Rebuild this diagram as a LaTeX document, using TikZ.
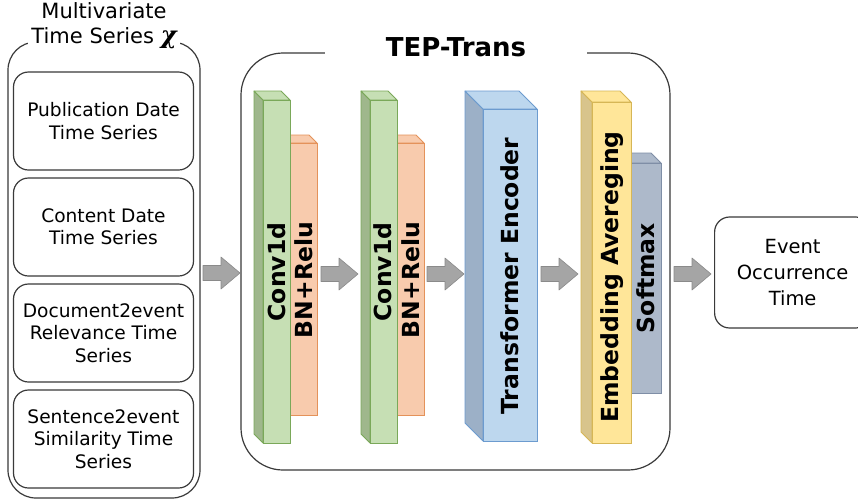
\documentclass[tikz,border=0pt]{standalone}
\usepackage{fontspec}
\setmainfont{DejaVu Sans}
\newfontfamily\chifont{DejaVu Serif}
\usetikzlibrary{calc}

% block colours: fill, side face, outline
\definecolor{gFill}{HTML}{C6DFB4}\definecolor{gSide}{HTML}{9FB78C}\definecolor{gLine}{HTML}{7AA859}
\definecolor{oFill}{HTML}{F8CBAD}\definecolor{oSide}{HTML}{E7B597}\definecolor{oLine}{HTML}{E4925A}
\definecolor{bFill}{HTML}{BDD7EE}\definecolor{bSide}{HTML}{9CB0C7}\definecolor{bLine}{HTML}{6C9BCF}
\definecolor{yFill}{HTML}{FFE699}\definecolor{ySide}{HTML}{D8C48C}\definecolor{yLine}{HTML}{D6B656}
\definecolor{sFill}{HTML}{ADB9CA}\definecolor{sSide}{HTML}{9AA5B5}\definecolor{sLine}{HTML}{7F8EA6}
\definecolor{arrFill}{HTML}{A5A5A5}\definecolor{arrLine}{HTML}{8A8A8A}
\definecolor{frameCol}{HTML}{3A3A3A}

% 3D slab: name, x-left, x-right, y-top, y-bottom, depth, colour prefix
\newcommand\slab[7]{%
  \filldraw[fill=#7Side,draw=#7Line,line width=0.8pt,line join=round]
    (#2-#6,#4-#6) -- (#2,#4) -- (#2,#5) -- (#2-#6,#5-#6) -- cycle;
  \filldraw[fill=#7Fill,draw=#7Line,line width=0.8pt,line join=round]
    (#2-#6,#4-#6) -- (#3-#6,#4-#6) -- (#3,#4) -- (#2,#4) -- cycle;
  \node[draw=#7Line,fill=#7Fill,line width=0.8pt,inner sep=0pt,anchor=north west,
        minimum width=#3-#2,minimum height=#5-#4] (#1) at (#2,#4) {};
}

\tikzset{
  frame/.style={draw=frameCol,line width=1.2pt},
  inbox/.style={frame,rounded corners=15pt,minimum width=180pt,minimum height=98pt,
    align=center,inner sep=0pt,font=\fontsize{18.6}{22.3}\selectfont},
  vlabel/.style={rotate=90,inner sep=0pt,font=\fontsize{23.5}{26}\selectfont\bfseries},
  fatarrow/.pic={\filldraw[fill=arrFill,draw=arrLine,line width=0.6pt,line join=round]
    (0,-7.5) -- (18,-7.5) -- (18,-16) -- (37,0) -- (18,16) -- (18,7.5) -- (0,7.5) -- cycle;}
}

\begin{document}
\begin{tikzpicture}[x=1pt,y=-1pt]
\useasboundingbox (0,0) rectangle (858,501);
\clip (0,0) rectangle (858,501);
\fill[white] (0,0) rectangle (858,501);

% input series
\draw[frame,rounded corners=28pt] (8,42) rectangle (200,498);
\node[fill=white,inner sep=3pt,align=center,font=\fontsize{21}{25}\selectfont] (mts) at (104,26)
  {Multivariate\\Time Series {\chifont\fontsize{24}{24}\selectfont\bfseries\itshape χ}};
\node[inbox] (pub) at (103.5,121) {Publication Date\\Time Series};
\node[inbox] (con) at (103.5,227) {Content Date\\Time Series};
\node[inbox] (doc) at (103.5,333) {Document2event\\Relevance Time\\Series};
\node[inbox] (sen) at (103.5,439) {Sentence2event\\Similarity Time\\Series};

% model
\draw[frame,rounded corners=42pt] (241,53) rectangle (670,470);
\node[fill=white,minimum width=262pt,inner sep=2pt,font=\fontsize{26}{30}\selectfont\bfseries] (tep) at (456,47) {TEP-Trans};

\slab{bn1}{290}{317}{143}{415}{8}{o}
\slab{cv1}{263}{290}{100}{443}{9}{g}
\slab{bn2}{397}{424}{143}{415}{8}{o}
\slab{cv2}{370}{397}{100}{443}{9}{g}
\slab{enc}{483}{537}{109}{441}{18}{b}
\slab{smx}{631}{661}{163}{393}{10}{s}
\slab{emb}{592}{631}{102}{443}{11}{y}

\node[vlabel] at (277,272) {Conv1d};
\node[vlabel] at (304,280) {BN+Relu};
\node[vlabel] at (383,272) {Conv1d};
\node[vlabel] at (411,280) {BN+Relu};
\node[vlabel] at (510,276) {Transformer Encoder};
\node[vlabel] at (612,277) {Embedding Avereging};
\node[vlabel] at (646,278) {Softmax};

% output
\node[frame,rounded corners=15pt,minimum width=156pt,minimum height=111pt,anchor=west,
      align=center,inner sep=0pt,font=\fontsize{19.5}{26}\selectfont] (evt) at (714,272.5)
  {Event\\Occurrence\\Time};

% flow arrows
\pic at (203,273) {fatarrow};
\pic at (321,274) {fatarrow};
\pic at (427,274) {fatarrow};
\pic at (541,274) {fatarrow};
\pic at (674,274) {fatarrow};
\end{tikzpicture}
\end{document}
